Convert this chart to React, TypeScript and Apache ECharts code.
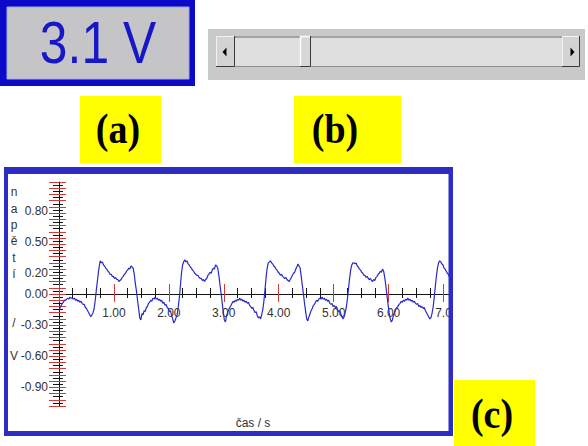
import React, { useEffect, useRef } from 'react';
import * as echarts from 'echarts';

const meterText = '3.1 V';
const panelLabels = ['(a)', '(b)', '(c)'];
const yAxisTitleVertical = 'n\na\np\ně\nt\ní\n\n\n/\n\nV';
const xAxisTitle = 'čas / s';
const yLabelValues = [0.8, 0.5, 0.2, 0, -0.3, -0.6, -0.9];

const samples: [number, number][] = [
  [0.00,-0.16],[0.02,-0.13],[0.04,-0.11],[0.06,-0.09],[0.08,-0.08],[0.10,-0.06],[0.12,-0.06],[0.14,-0.05],[0.16,-0.04],[0.18,-0.05],
  [0.20,-0.03],[0.22,-0.04],[0.24,-0.04],[0.26,-0.05],[0.28,-0.04],[0.30,-0.06],[0.32,-0.05],[0.34,-0.07],[0.36,-0.06],[0.38,-0.08],
  [0.40,-0.07],[0.42,-0.09],[0.44,-0.10],[0.46,-0.10],[0.48,-0.13],[0.50,-0.14],[0.52,-0.16],[0.54,-0.18],[0.56,-0.20],[0.58,-0.22],
  [0.60,-0.20],[0.62,-0.18],[0.64,-0.14],[0.66,-0.06],[0.68,0.04],[0.70,0.13],[0.72,0.22],[0.74,0.29],
  [0.75,0.32],[0.77,0.30],[0.79,0.31],[0.81,0.28],[0.83,0.27],[0.85,0.25],[0.87,0.24],[0.89,0.22],[0.91,0.21],[0.93,0.19],
  [0.95,0.19],[0.97,0.17],[0.99,0.17],[1.01,0.15],[1.03,0.16],[1.05,0.14],[1.07,0.14],[1.09,0.12],[1.11,0.13],[1.13,0.14],
  [1.15,0.16],[1.17,0.17],[1.19,0.19],[1.21,0.20],[1.23,0.22],[1.25,0.23],[1.27,0.25],[1.29,0.24],[1.31,0.27],[1.33,0.26],
  [1.35,0.25],[1.37,0.19],[1.39,0.10],[1.41,0.03],[1.43,-0.06],[1.45,-0.14],[1.47,-0.23],[1.49,-0.25],[1.51,-0.19],[1.53,-0.20],
  [1.55,-0.16],[1.57,-0.17],[1.59,-0.13],[1.61,-0.12],[1.63,-0.09],[1.65,-0.08],[1.67,-0.06],[1.69,-0.07],[1.71,-0.04],[1.73,-0.05],
  [1.75,-0.03],[1.77,-0.05],[1.79,-0.04],[1.81,-0.06],[1.83,-0.05],[1.85,-0.07],[1.87,-0.06],[1.89,-0.09],[1.91,-0.08],[1.93,-0.11],
  [1.95,-0.10],[1.97,-0.13],[1.99,-0.14],[2.01,-0.17],[2.03,-0.16],[2.05,-0.21],[2.07,-0.24],[2.09,-0.28],[2.11,-0.26],[2.13,-0.23],
  [2.15,-0.20],[2.17,-0.13],[2.19,-0.04],[2.21,0.08],[2.23,0.20],[2.25,0.28],[2.27,0.31],
  [2.29,0.33],[2.31,0.31],[2.33,0.32],[2.35,0.29],[2.37,0.28],[2.39,0.26],[2.41,0.25],[2.43,0.23],[2.45,0.22],[2.47,0.20],
  [2.49,0.19],[2.51,0.18],[2.53,0.18],[2.55,0.16],[2.57,0.15],[2.59,0.15],[2.61,0.13],[2.63,0.14],[2.65,0.12],[2.67,0.14],
  [2.69,0.15],[2.71,0.18],[2.73,0.19],[2.75,0.21],[2.77,0.20],[2.79,0.23],[2.81,0.25],[2.83,0.24],[2.85,0.28],[2.87,0.27],
  [2.89,0.25],[2.91,0.18],[2.93,0.09],[2.95,0.01],[2.97,-0.08],[2.99,-0.17],[3.01,-0.25],[3.03,-0.27],[3.05,-0.21],[3.07,-0.18],
  [3.09,-0.15],[3.11,-0.13],[3.13,-0.11],[3.15,-0.09],[3.17,-0.07],[3.19,-0.08],[3.21,-0.06],[3.23,-0.07],[3.25,-0.05],[3.27,-0.06],
  [3.29,-0.04],[3.31,-0.06],[3.33,-0.05],[3.35,-0.07],[3.37,-0.06],[3.39,-0.08],[3.41,-0.07],[3.43,-0.09],[3.45,-0.08],[3.47,-0.11],
  [3.49,-0.12],[3.51,-0.14],[3.53,-0.13],[3.55,-0.16],[3.57,-0.18],[3.59,-0.17],[3.61,-0.21],[3.63,-0.23],[3.65,-0.22],[3.67,-0.24],
  [3.69,-0.20],[3.71,-0.15],[3.73,-0.07],[3.75,0.04],[3.77,0.16],[3.79,0.25],[3.81,0.30],
  [3.83,0.31],[3.85,0.32],[3.87,0.30],[3.89,0.29],[3.91,0.27],[3.93,0.26],[3.95,0.24],[3.97,0.23],[3.99,0.21],[4.01,0.20],
  [4.03,0.18],[4.05,0.19],[4.07,0.17],[4.09,0.16],[4.11,0.15],[4.13,0.16],[4.15,0.14],[4.17,0.13],[4.19,0.12],[4.21,0.14],
  [4.23,0.16],[4.25,0.18],[4.27,0.20],[4.29,0.21],[4.31,0.24],[4.33,0.26],[4.35,0.29],[4.37,0.27],[4.39,0.25],[4.41,0.17],
  [4.43,0.08],[4.45,0.00],[4.47,-0.09],[4.49,-0.17],[4.51,-0.24],[4.53,-0.26],[4.55,-0.22],[4.57,-0.19],[4.59,-0.16],[4.61,-0.14],
  [4.63,-0.11],[4.65,-0.10],[4.67,-0.08],[4.69,-0.06],[4.71,-0.07],[4.73,-0.05],[4.75,-0.04],[4.77,-0.05],[4.79,-0.03],[4.81,-0.05],
  [4.83,-0.04],[4.85,-0.06],[4.87,-0.05],[4.89,-0.07],[4.91,-0.06],[4.93,-0.09],[4.95,-0.10],[4.97,-0.09],[4.99,-0.12],[5.01,-0.11],
  [5.03,-0.13],[5.05,-0.12],[5.07,-0.15],[5.09,-0.17],[5.11,-0.16],[5.13,-0.19],[5.15,-0.22],[5.17,-0.24],[5.19,-0.22],[5.21,-0.18],
  [5.23,-0.13],[5.25,-0.05],[5.27,0.05],[5.29,0.15],[5.31,0.23],[5.33,0.28],[5.35,0.30],
  [5.37,0.30],[5.39,0.29],[5.41,0.30],[5.43,0.27],[5.45,0.26],[5.47,0.24],[5.49,0.23],[5.51,0.21],[5.53,0.20],[5.55,0.18],
  [5.57,0.18],[5.59,0.16],[5.61,0.17],[5.63,0.15],[5.65,0.14],[5.67,0.15],[5.69,0.13],[5.71,0.12],[5.73,0.14],[5.75,0.13],
  [5.77,0.16],[5.79,0.17],[5.81,0.19],[5.83,0.20],[5.85,0.22],[5.87,0.21],[5.89,0.24],[5.91,0.22],[5.93,0.16],[5.95,0.08],
  [5.97,-0.01],[5.99,-0.10],[6.01,-0.18],[6.03,-0.24],[6.05,-0.27],[6.07,-0.25],[6.09,-0.20],[6.11,-0.18],[6.13,-0.15],[6.15,-0.13],
  [6.17,-0.12],[6.19,-0.10],[6.21,-0.09],[6.23,-0.07],[6.25,-0.08],[6.27,-0.06],[6.29,-0.07],[6.31,-0.05],[6.33,-0.06],[6.35,-0.04],
  [6.37,-0.06],[6.39,-0.05],[6.41,-0.07],[6.43,-0.06],[6.45,-0.08],[6.47,-0.07],[6.49,-0.09],[6.51,-0.10],[6.53,-0.09],[6.55,-0.12],
  [6.57,-0.11],[6.59,-0.13],[6.61,-0.12],[6.63,-0.14],[6.65,-0.13],[6.67,-0.16],[6.69,-0.18],[6.71,-0.20],[6.73,-0.22],[6.75,-0.24],
  [6.77,-0.23],[6.79,-0.19],[6.81,-0.13],[6.83,-0.04],[6.85,0.07],[6.87,0.17],[6.89,0.25],[6.91,0.30],
  [6.93,0.32],[6.95,0.31],[6.97,0.29],[6.99,0.28],[7.01,0.25],[7.03,0.24],[7.05,0.22],[7.07,0.20],[7.09,0.19],[7.10,0.17],
];

const RED = '#d23a3a';
const BLK = '#141414';
const FRAME = '#2d2dc3';
const LABEL_FONT = "'Liberation Sans', Arial, sans-serif";
const SERIF = "'Liberation Serif', 'Times New Roman', serif";

// grid: top 182, height 224 -> value 0 sits 112px above the grid's bottom edge
const X_AXIS_OFFSET = -112;

function xAx(interval: number, color: string, length: number, inside: boolean, showLine: boolean, showLabel: boolean) {
  return {
    type: 'value', gridIndex: 0, position: 'bottom', offset: X_AXIS_OFFSET, min: 0, max: 7.1, interval,
    axisLine: { show: showLine, onZero: false, lineStyle: { color: BLK, width: 1 } },
    axisTick: { show: true, inside, length, lineStyle: { color, width: 1 } },
    splitLine: { show: false },
    axisLabel: {
      show: showLabel, margin: 13, color: '#333', fontSize: 12, fontFamily: LABEL_FONT,
      formatter: (v: number) => {
        if (Math.abs(v - Math.round(v)) > 1e-6 || v === 0) return '';
        return v === 7 ? '7.0' : v.toFixed(2);
      },
    },
  };
}

function yAx(interval: number, color: string, length: number, inside: boolean, showLine: boolean, showLabel: boolean) {
  return {
    type: 'value', gridIndex: 0, position: 'left', min: -1.08, max: 1.08, interval,
    axisLine: { show: showLine, onZero: false, lineStyle: { color: BLK, width: 1 } },
    axisTick: { show: true, inside, length, lineStyle: { color, width: 1 } },
    splitLine: { show: false },
    axisLabel: {
      show: showLabel, margin: 11, color: '#333', fontSize: 12, fontFamily: LABEL_FONT,
      customValues: yLabelValues,
      formatter: (v: number) => v.toFixed(2),
    },
  };
}

function txt(text: string, x: number, y: number, font: string, fill: string, extra: any = {}) {
  return {
    type: 'text', x, y, z: 110, ...extra,
    style: { text, font, fill, align: 'center', verticalAlign: 'middle', textAlign: 'center', textVerticalAlign: 'middle', ...(extra.style || {}) },
  };
}

export default function App() {
  const ref = useRef<HTMLDivElement>(null);
  useEffect(() => {
    document.body.style.margin = '0';
    const chart = echarts.init(ref.current!, null, { renderer: 'svg' });
    const graphic: any[] = [
      // panel (a): meter display
      { type: 'rect', z: 10, shape: { x: 0, y: 0, width: 195, height: 86 }, style: { fill: '#0a0ac8' } },
      { type: 'rect', z: 11, shape: { x: 7, y: 7, width: 182, height: 72 }, style: { fill: '#c5c5c8', stroke: '#a6a6dc', lineWidth: 1 } },
      txt(meterText, 98, 42, `60px ${LABEL_FONT}`, '#1717c9', { scaleX: 0.83 }),
      // panel (b): scrollbar
      { type: 'rect', z: 10, shape: { x: 208, y: 29, width: 377, height: 51 }, style: { fill: '#c9c9c9' } },
      { type: 'rect', z: 11, shape: { x: 216, y: 36, width: 364, height: 31 }, style: { fill: '#dfdfdf' } },
      { type: 'line', z: 12, shape: { x1: 216, y1: 37, x2: 580, y2: 37 }, style: { stroke: '#a2a2a2', lineWidth: 2 } },
      { type: 'line', z: 12, shape: { x1: 216, y1: 66.5, x2: 580, y2: 66.5 }, style: { stroke: '#8c8c8c', lineWidth: 1 } },
      { type: 'rect', z: 13, shape: { x: 216, y: 36, width: 19, height: 31 }, style: { fill: '#d3d3d3' } },
      { type: 'polyline', z: 14, shape: { points: [[216.5, 66], [216.5, 36.5], [234, 36.5]] }, style: { stroke: '#f2f2f2', lineWidth: 1 } },
      { type: 'polyline', z: 14, shape: { points: [[216, 66.5], [234.5, 66.5], [234.5, 36]] }, style: { stroke: '#3a3a3a', lineWidth: 1 } },
      { type: 'polygon', z: 14, shape: { points: [[222.5, 52], [226.5, 47.5], [226.5, 56.5]] }, style: { fill: '#000' } },
      { type: 'rect', z: 13, shape: { x: 300, y: 36, width: 11, height: 31 }, style: { fill: '#d8d8d8' } },
      { type: 'polyline', z: 14, shape: { points: [[300.5, 66], [300.5, 36.5], [310, 36.5]] }, style: { stroke: '#fbfbfb', lineWidth: 1.5 } },
      { type: 'polyline', z: 14, shape: { points: [[300, 66.5], [310.5, 66.5], [310.5, 36]] }, style: { stroke: '#3a3a3a', lineWidth: 1 } },
      { type: 'rect', z: 13, shape: { x: 562, y: 36, width: 18, height: 31 }, style: { fill: '#d3d3d3' } },
      { type: 'polyline', z: 14, shape: { points: [[562.5, 66], [562.5, 36.5], [579, 36.5]] }, style: { stroke: '#f2f2f2', lineWidth: 1 } },
      { type: 'polyline', z: 14, shape: { points: [[562, 66.5], [579.5, 66.5], [579.5, 36]] }, style: { stroke: '#3a3a3a', lineWidth: 1 } },
      { type: 'polygon', z: 14, shape: { points: [[574.5, 52], [570.5, 47.5], [570.5, 56.5]] }, style: { fill: '#000' } },
      // yellow labels
      { type: 'rect', z: 10, shape: { x: 80, y: 96, width: 81, height: 67 }, style: { fill: '#ffff00' } },
      { type: 'rect', z: 10, shape: { x: 294, y: 96, width: 107, height: 67 }, style: { fill: '#ffff00' } },
      { type: 'rect', z: 10, shape: { x: 454, y: 380, width: 81, height: 66 }, style: { fill: '#ffff00' } },
      txt(panelLabels[0], 118, 129, `bold 38px ${SERIF}`, '#000', { scaleY: 1.1 }),
      txt(panelLabels[1], 335, 129, `bold 38px ${SERIF}`, '#000', { scaleY: 1.1 }),
      txt(panelLabels[2], 492, 414, `bold 38px ${SERIF}`, '#000', { scaleY: 1.1 }),
      // chart frame (c)
      { type: 'rect', z: 100, shape: { x: 4, y: 167, width: 449, height: 7 }, style: { fill: FRAME } },
      { type: 'rect', z: 100, shape: { x: 4, y: 167, width: 4, height: 269 }, style: { fill: FRAME } },
      { type: 'rect', z: 100, shape: { x: 448.5, y: 167, width: 4.5, height: 269 }, style: { fill: FRAME } },
      { type: 'rect', z: 100, shape: { x: 4, y: 431, width: 449, height: 5 }, style: { fill: FRAME } },
      // axis titles
      {
        type: 'text', x: 14, y: 184, z: 110,
        style: { text: yAxisTitleVertical, font: `12px ${LABEL_FONT}`, fill: '#333', lineHeight: 16.4, align: 'center', textAlign: 'center', verticalAlign: 'top', textVerticalAlign: 'top' },
      },
      txt(xAxisTitle, 253, 423, `12px ${LABEL_FONT}`, '#333'),
    ];

    const option: any = {
      animation: false,
      backgroundColor: '#ffffff',
      textStyle: { fontFamily: LABEL_FONT },
      grid: { left: 59, right: 139, top: 182, bottom: 40, containLabel: false, outerBoundsMode: 'none' },
      xAxis: [
        xAx(0.25, BLK, 4, false, true, false),
        xAx(0.25, BLK, 6, true, false, false),
        xAx(1, RED, 8, false, false, true),
        xAx(1, RED, 10, true, false, false),
      ],
      yAxis: [
        yAx(0.03, BLK, 6, false, true, true),
        yAx(0.03, BLK, 4, true, false, false),
        yAx(0.06, RED, 10, false, false, false),
        yAx(0.06, RED, 7, true, false, false),
      ],
      series: [
        {
          type: 'line', xAxisIndex: 0, yAxisIndex: 0, data: samples, showSymbol: false, symbol: 'none',
          lineStyle: { color: '#2929c9', width: 1.2 }, z: 5, clip: true,
        },
      ],
      graphic,
    };
    chart.setOption(option);
    return () => chart.dispose();
  }, []);
  return <div ref={ref} style={{ width: 588, height: 446 }} />;
}
